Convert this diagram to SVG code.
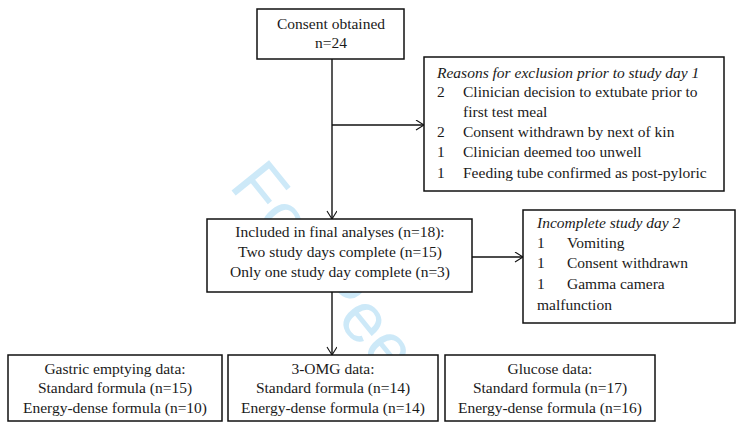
<svg xmlns="http://www.w3.org/2000/svg" width="742" height="428" viewBox="0 0 742 428">
<style>
.box{fill:#fff;stroke:#111;stroke-width:1.5}
.t{font-family:"Liberation Serif","Times New Roman",serif;font-size:15.5px;fill:#1a1a1a}
.c{text-anchor:middle}
.i{font-style:italic}
.ln{stroke:#111;stroke-width:1.4;fill:none}
.wm{font-family:"Liberation Sans",Arial,sans-serif;font-size:70px;fill:#cde9f8}
</style>
<defs>
<marker id="ah" markerUnits="userSpaceOnUse" markerWidth="12" markerHeight="12" refX="9" refY="5" orient="auto">
<path d="M1,0 L9,5 L1,10" fill="none" stroke="#111" stroke-width="1.1"/>
</marker>
</defs>
<rect width="742" height="428" fill="#fff"/>
<text class="wm" x="228" y="186" transform="rotate(51 228 186)">For Peer</text>
<g id="connectors">
<path class="ln" d="M332,59 V219" marker-end="url(#ah)"/>
<path class="ln" d="M332,125 H424" marker-end="url(#ah)"/>
<path class="ln" d="M472,257 H523" marker-end="url(#ah)"/>
<path class="ln" d="M332,292 V355" marker-end="url(#ah)"/>
</g>
<g id="consent">
<rect class="box" x="257" y="9" width="147" height="50"/>
<text class="t c" x="331" y="29">Consent obtained</text>
<text class="t c" x="331" y="48">n=24</text>
</g>
<g id="exclusion">
<rect class="box" x="424" y="57" width="300" height="134"/>
<text class="t i" x="437" y="78">Reasons for exclusion prior to study day 1</text>
<text class="t" x="437" y="97">2</text><text class="t" x="463" y="97">Clinician decision to extubate prior to</text>
<text class="t" x="463" y="117">first test meal</text>
<text class="t" x="437" y="137">2</text><text class="t" x="463" y="137">Consent withdrawn by next of kin</text>
<text class="t" x="437" y="157">1</text><text class="t" x="463" y="157">Clinician deemed too unwell</text>
<text class="t" x="437" y="178">1</text><text class="t" x="463" y="178">Feeding tube confirmed as post-pyloric</text>
</g>
<g id="included">
<rect class="box" x="207" y="219" width="265" height="73"/>
<text class="t c" x="340" y="237">Included in final analyses (n=18):</text>
<text class="t c" x="340" y="257">Two study days complete (n=15)</text>
<text class="t c" x="340" y="277">Only one study day complete (n=3)</text>
</g>
<g id="incomplete">
<rect class="box" x="523" y="210" width="212" height="113"/>
<text class="t i" x="537" y="228">Incomplete study day 2</text>
<text class="t" x="537" y="248">1</text><text class="t" x="567" y="248">Vomiting</text>
<text class="t" x="537" y="268">1</text><text class="t" x="567" y="268">Consent withdrawn</text>
<text class="t" x="537" y="289">1</text><text class="t" x="567" y="289">Gamma camera</text>
<text class="t" x="537" y="310">malfunction</text>
</g>
<g id="gastric">
<rect class="box" x="8" y="355" width="214" height="66"/>
<text class="t c" x="115" y="374">Gastric emptying data:</text>
<text class="t c" x="115" y="393">Standard formula (n=15)</text>
<text class="t c" x="115" y="413">Energy-dense formula (n=10)</text>
</g>
<g id="omg">
<rect class="box" x="228" y="355" width="210" height="66"/>
<text class="t c" x="333" y="374">3-OMG data:</text>
<text class="t c" x="333" y="393">Standard formula (n=14)</text>
<text class="t c" x="333" y="413">Energy-dense formula (n=14)</text>
</g>
<g id="glucose">
<rect class="box" x="445" y="355" width="210" height="66"/>
<text class="t c" x="550" y="374">Glucose data:</text>
<text class="t c" x="550" y="393">Standard formula (n=17)</text>
<text class="t c" x="550" y="413">Energy-dense formula (n=16)</text>
</g>
</svg>
